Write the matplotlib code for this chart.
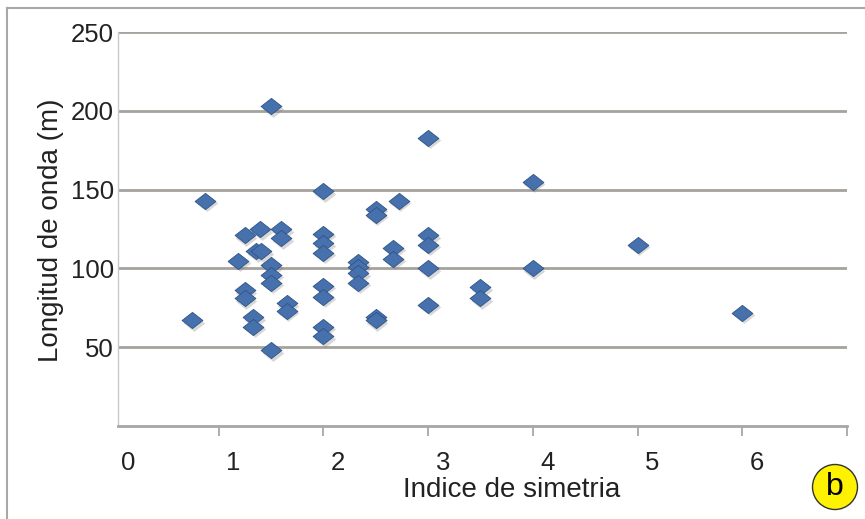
import matplotlib
matplotlib.use("Agg")
import matplotlib.pyplot as plt
import numpy as np
from matplotlib.path import Path
from matplotlib.lines import Line2D
from matplotlib.patches import Circle
import matplotlib.transforms as mtransforms

plt.rcParams['font.family'] = ['Liberation Sans', 'DejaVu Sans']

# Data
indice = [0.75, 0.87, 1.19, 1.25, 1.25, 1.25, 1.33, 1.33, 1.36, 1.41, 1.40,
          1.5, 1.5, 1.5, 1.5, 1.5, 1.6, 1.6, 1.65, 1.65,
          2.0, 2.0, 2.0, 2.0, 2.0, 2.0, 2.0, 2.0,
          2.33, 2.33, 2.33, 2.33, 2.5, 2.5, 2.5, 2.5, 2.67, 2.67, 2.72,
          3.0, 3.0, 3.0, 3.0, 3.0, 3.5, 3.5, 4.0, 4.0, 5.0, 6.0]
longitud = [67, 143, 105, 121, 86, 81, 69, 63, 111, 111, 125,
            203, 102, 96, 91, 48, 125, 119, 78, 73,
            149, 122, 116, 110, 89, 82, 63, 57,
            104, 101, 97, 91, 138, 134, 69, 67, 113, 106, 143,
            183, 121, 115, 100, 77, 88, 81, 155, 100, 115, 72]

y_ticks = [50, 100, 150, 200, 250]
x_ticks = [1, 2, 3, 4, 5, 6, 7]
x_labels = ['0', '1', '2', '3', '4', '5', '6']

W, H = 865, 519
fig = plt.figure(figsize=(W / 100, H / 100), dpi=100)
fig.patch.set_facecolor('white')
ax = fig.add_axes([118 / W, (H - 426) / H, (847 - 118) / W, (426 - 32) / H])

# flattened diamond marker
diamond = Path([(-1, 0), (0, 0.78), (1, 0), (0, -0.78), (-1, 0)],
               [Path.MOVETO, Path.LINETO, Path.LINETO, Path.LINETO, Path.CLOSEPOLY])

# soft shadow
shadow_tr = ax.transData + mtransforms.ScaledTranslation(1.2 / 72, -1.8 / 72, fig.dpi_scale_trans)
ax.plot(indice, longitud, linestyle='none', marker=diamond, markersize=15.5,
        color='#7f7f7f', alpha=0.3, markeredgewidth=0, transform=shadow_tr, zorder=3)
ax.plot(indice, longitud, linestyle='none', marker=diamond, markersize=15,
        markerfacecolor='#4671AD', markeredgecolor='#2F5485', markeredgewidth=0.6, zorder=4)

ax.set_xlim(0.04, 7)
ax.set_ylim(0, 250)

# gridlines
for v in y_ticks:
    ax.axhline(v, color='#A6A29E', linewidth=2, zorder=1)

ax.set_yticks(y_ticks)
ax.set_yticklabels([str(v) for v in y_ticks], fontsize=18.5, color='#222222')
ax.tick_params(axis='y', length=0, pad=3)

ax.set_xticks(x_ticks)
ax.set_xticklabels([])
ax.tick_params(axis='x', direction='out', length=7, width=1.2, color='#A0A0A0')
# x labels (shifted relative to tick marks as in the reference)
for i, lab in enumerate(x_labels):
    ax.text(i + 0.14, -0.093, lab, transform=ax.get_xaxis_transform(),
            ha='center', va='center', fontsize=18.5, color='#222222')

for s in ['top', 'right']:
    ax.spines[s].set_visible(False)
ax.spines['left'].set_color('#C8C8C8')
ax.spines['left'].set_linewidth(1)
ax.spines['bottom'].set_color('#A6A6A6')
ax.spines['bottom'].set_linewidth(2)

fig.text(512 / W, 1 - 490 / H, 'Indice de simetria', ha='center', va='center',
         fontsize=20, color='#222222')
fig.text(51 / W, 1 - 230 / H, 'Longitud de onda (m)', ha='center', va='center',
         rotation=90, fontsize=20, color='#222222')

# outer frame
fig.add_artist(Line2D([7 / W, 7 / W], [0, 1 - 8 / H], color='#A8A8A8', linewidth=1.5,
                      transform=fig.transFigure))
fig.add_artist(Line2D([7 / W, 1], [1 - 8 / H, 1 - 8 / H], color='#A8A8A8', linewidth=1.5,
                      transform=fig.transFigure))

# "b" badge
fig.add_artist(Circle((835, H - 487), 22.5, transform=None, facecolor='#FFF200',
                      edgecolor='#333333', linewidth=1.0))
fig.text(835 / W, 1 - 487 / H, 'b', ha='center', va='center', fontsize=23, color='black')

fig.savefig('out.png', dpi=100)
